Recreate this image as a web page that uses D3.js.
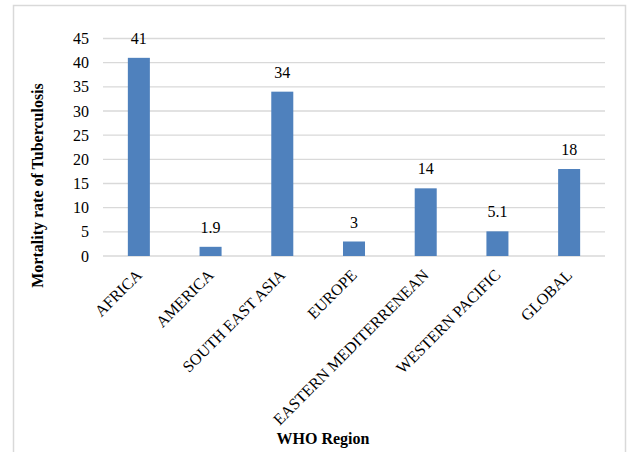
<!DOCTYPE html>
<html>
<head>
<meta charset="utf-8">
<script src="https://cdn.jsdelivr.net/npm/d3@7"></script>
<style>
  html, body { margin: 0; padding: 0; background: #ffffff; }
  svg { display: block; }
  svg text { font-family: "Liberation Serif", "Times New Roman", Tinos, "DejaVu Serif", serif; }
</style>
</head>
<body>
<svg id="chart" width="636" height="452"></svg>
<script>
// WHO regions and tuberculosis mortality rates
const regions = ["AFRICA", "AMERICA", "SOUTH EAST ASIA", "EUROPE", "EASTERN MEDITERRENEAN", "WESTERN PACIFIC", "GLOBAL"];
const mortality = [41, 1.9, 34, 3, 14, 5.1, 18];
const yTicks = [0, 5, 10, 15, 20, 25, 30, 35, 40, 45];

const svg = d3.select("#chart");
const plot = { left: 103, right: 605, top: 38.5, bottom: 256 };

// outer frame
svg.append("rect")
  .attr("x", 13.5).attr("y", 5.5)
  .attr("width", 612).attr("height", 470)
  .attr("fill", "none").attr("stroke", "#d9d9d9").attr("stroke-width", 1.5);

const gap = 0.693;
const x = d3.scaleBand()
  .domain(regions)
  .range([plot.left, plot.right])
  .paddingInner(gap)
  .paddingOuter(gap / 2);

const y = d3.scaleLinear().domain([0, 45]).range([plot.bottom, plot.top]);

// gridlines
svg.append("g")
  .selectAll("line")
  .data(yTicks)
  .join("line")
  .attr("x1", plot.left).attr("x2", plot.right)
  .attr("y1", d => y(d)).attr("y2", d => y(d))
  .attr("stroke", "#d9d9d9").attr("stroke-width", 1.4);

// y tick labels
const yAxis = d3.axisLeft(y).tickValues(yTicks).tickSize(0).tickPadding(14);
const gy = svg.append("g").attr("transform", `translate(${plot.left},0)`).call(yAxis);
gy.attr("font-family", null).attr("font-size", null);
gy.select(".domain").remove();
gy.selectAll("text")
  .style("font-size", "16px")
  .attr("fill", "#000");

// bars
svg.append("g")
  .selectAll("rect")
  .data(regions)
  .join("rect")
  .attr("x", d => x(d))
  .attr("width", x.bandwidth())
  .attr("y", (d, i) => y(mortality[i]))
  .attr("height", (d, i) => y(0) - y(mortality[i]))
  .attr("fill", "#4f81bd");

// value labels
svg.append("g")
  .selectAll("text")
  .data(regions)
  .join("text")
  .attr("x", d => x(d) + x.bandwidth() / 2)
  .attr("y", (d, i) => y(mortality[i]) - 14)
  .attr("text-anchor", "middle")
  .style("font-size", "16px")
  .attr("fill", "#000")
  .text((d, i) => mortality[i]);

// category labels, rotated
const xAxis = d3.axisBottom(x).tickSize(0).tickPadding(0);
const gx = svg.append("g").attr("transform", `translate(0,${plot.bottom})`).call(xAxis);
gx.attr("font-family", null).attr("font-size", null);
gx.select(".domain").remove();
gx.selectAll("text")
  .style("font-size", "16px")
  .attr("fill", "#000")
  .attr("text-anchor", "end")
  .attr("dy", null)
  .attr("y", 0)
  .attr("transform", "translate(4,20) rotate(-45)");

// axis titles
svg.append("text")
  .attr("transform", "translate(43,185.5) rotate(-90)")
  .attr("text-anchor", "middle")
  .style("font-size", "16px")
  .style("font-weight", "bold")
  .attr("fill", "#000")
  .text("Mortality rate of Tuberculosis");

svg.append("text")
  .attr("x", 323).attr("y", 444)
  .attr("text-anchor", "middle")
  .style("font-size", "16px")
  .style("font-weight", "bold")
  .attr("fill", "#000")
  .text("WHO Region");
</script>
</body>
</html>
